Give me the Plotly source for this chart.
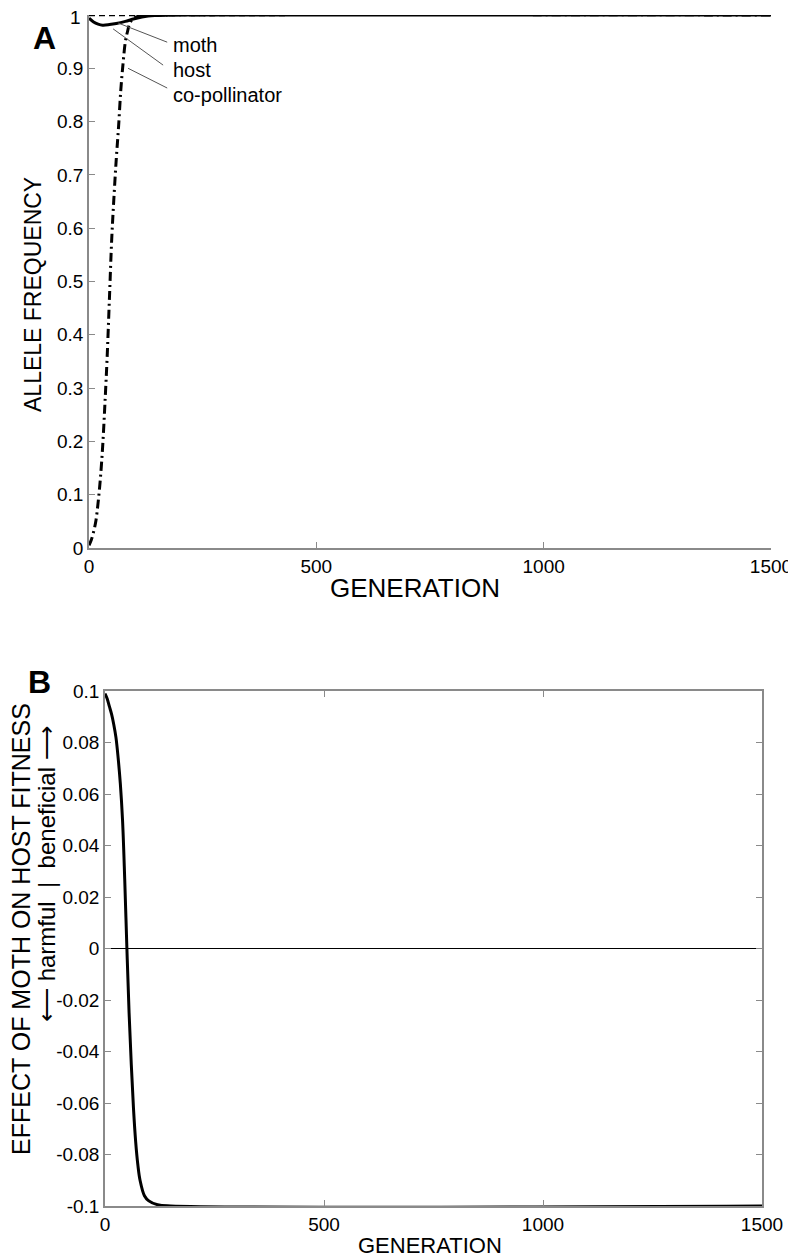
import plotly.graph_objects as go

# ---- Panel A data ----
gen_cop = [0, 5, 10, 15, 20, 25, 30, 35, 40, 45, 50, 55, 60, 65, 70, 75, 80, 85, 90, 100, 120, 150, 1500]
freq_cop = [0.005, 0.015, 0.03, 0.05, 0.085, 0.13, 0.19, 0.27, 0.36, 0.47, 0.58, 0.66, 0.73, 0.79, 0.86, 0.91, 0.95, 0.97, 0.985, 0.995, 0.999, 1.0, 1.0]

gen_host = [0, 10, 20, 30, 45, 60, 80, 100, 130, 150, 200, 300, 1500]
freq_host = [0.994, 0.987, 0.983, 0.981, 0.982, 0.984, 0.988, 0.993, 0.998, 0.999, 1.0, 1.0, 1.0]

gen_moth = [0, 50, 100, 150, 200, 1500]
freq_moth = [0.999, 0.999, 0.9995, 1.0, 1.0, 1.0]

# ---- Panel B data ----
gen_eff = [0, 5, 10, 15, 20, 25, 30, 35, 40, 45, 50, 55, 60, 65, 70, 75, 80, 90, 100, 120, 150, 1500]
effect = [0.099, 0.097, 0.094, 0.091, 0.087, 0.082, 0.074, 0.064, 0.05, 0.027, 0.0, -0.025, -0.045, -0.062, -0.075, -0.084, -0.09, -0.096, -0.098, -0.0995, -0.1, -0.1]

a_yticks = [0, 0.1, 0.2, 0.3, 0.4, 0.5, 0.6, 0.7, 0.8, 0.9, 1]
a_ytext = ["0", "0.1", "0.2", "0.3", "0.4", "0.5", "0.6", "0.7", "0.8", "0.9", "1"]
b_yticks = [-0.1, -0.08, -0.06, -0.04, -0.02, 0, 0.02, 0.04, 0.06, 0.08, 0.1]
b_ytext = ["-0.1", "-0.08", "-0.06", "-0.04", "-0.02", "0", "0.02", "0.04", "0.06", "0.08", "0.1"]
x_ticks = [0, 500, 1000, 1500]
x_text = ["0", "500", "1000", "1500"]

W, H = 788, 1249   # figure size (page body adds an 8px margin)
OFF = 8
FONT = "Liberation Sans, Arial, sans-serif"
GRAY = "#8a8a8a"

def px_x(p):
    return (p - OFF) / W

def px_y(p):
    return 1 - (p - OFF) / H

fig = go.Figure()

fig.add_trace(go.Scatter(x=gen_moth, y=freq_moth, mode="lines", xaxis="x", yaxis="y",
                         line=dict(color="black", width=1.5, dash="6px,4px"), name="moth"))
fig.add_trace(go.Scatter(x=gen_cop, y=freq_cop, mode="lines", xaxis="x", yaxis="y",
                         line=dict(color="black", width=3, dash="9px,4px,2px,4px", shape="spline"),
                         name="co-pollinator"))
fig.add_trace(go.Scatter(x=gen_host, y=freq_host, mode="lines", xaxis="x", yaxis="y",
                         line=dict(color="black", width=3, shape="spline"), name="host"))

fig.add_trace(go.Scatter(x=gen_eff, y=effect, mode="lines", xaxis="x2", yaxis="y2",
                         line=dict(color="black", width=3, shape="spline"), name="effect"))

tickfont = dict(family=FONT, size=19, color="black")
common = dict(showline=True, linecolor=GRAY, linewidth=1.5, ticks="inside", ticklen=6,
              tickcolor=GRAY, showgrid=False, tickfont=tickfont, automargin=False,
              ticklabeloverflow="allow")

# the top label of panel A sits against the page edge; it is drawn as an annotation a bit lower
a_ytext_axis = a_ytext[:-1] + [""]

axA = dict(range=[0, 1500], domain=[px_x(89), px_x(771)], tickvals=x_ticks, ticktext=x_text,
           zeroline=False, anchor="y", **common)
ayA = dict(range=[0, 1], domain=[px_y(548), px_y(15)], tickvals=a_yticks, ticktext=a_ytext_axis,
           zeroline=False, anchor="x", **common)
axB = dict(range=[0, 1500], domain=[px_x(105), px_x(762)], mirror="ticks", tickvals=x_ticks,
           ticktext=x_text, zeroline=False, anchor="y2", **common)
ayB = dict(range=[-0.1, 0.1], domain=[px_y(1206), px_y(691)], mirror="ticks", tickvals=b_yticks,
           ticktext=b_ytext, zeroline=True, zerolinecolor="black", zerolinewidth=1,
           anchor="x2", **common)

fig.update_layout(
    width=W, height=H, margin=dict(l=0, r=0, t=0, b=0),
    paper_bgcolor="white", plot_bgcolor="white", showlegend=False,
    xaxis=axA, yaxis=ayA, xaxis2=axB, yaxis2=ayB,
)

def paper_text(text, x, y, size, angle=0, bold=False, xanchor="center"):
    fig.add_annotation(x=px_x(x), y=px_y(y), xref="paper", yref="paper",
                       text=f"<b>{text}</b>" if bold else text, showarrow=False,
                       textangle=angle, xanchor=xanchor, yanchor="middle",
                       font=dict(family=FONT, size=size, color="black"))

# top tick label of panel A
paper_text(a_ytext[-1], 83, 18, 19, xanchor="right")

# axis titles
paper_text("ALLELE FREQUENCY", 33, 295, 23, angle=-90)
paper_text("GENERATION", 415, 588, 26)
paper_text("EFFECT OF MOTH ON HOST FITNESS", 21, 929, 25, angle=-90)
paper_text("\u27f5 harmful  |  beneficial \u27f6", 46, 874, 24, angle=-90)
paper_text("GENERATION", 430, 1245, 22)

# pointer lines for labels in panel A
pointers = [
    ("moth", 64, 0.985, 172, 0.949, 0.944),
    ("host", 53, 0.974, 163, 0.906, 0.897),
    ("co-pollinator", 86, 0.90, 172, 0.863, 0.85),
]
for label, x0, y0, x1, y1, ty in pointers:
    fig.add_shape(type="line", x0=x0, y0=y0, x1=x1, y1=y1, xref="x", yref="y",
                  line=dict(color="#555555", width=1))
    fig.add_annotation(x=180, y=ty, xref="x", yref="y", text=label, showarrow=False,
                       xanchor="left", yanchor="middle",
                       font=dict(family=FONT, size=20, color="black"))

# panel letters
paper_text("A", 44, 38, 32, bold=True)
paper_text("B", 40, 682, 32, bold=True)

fig.write_html("out.html")
